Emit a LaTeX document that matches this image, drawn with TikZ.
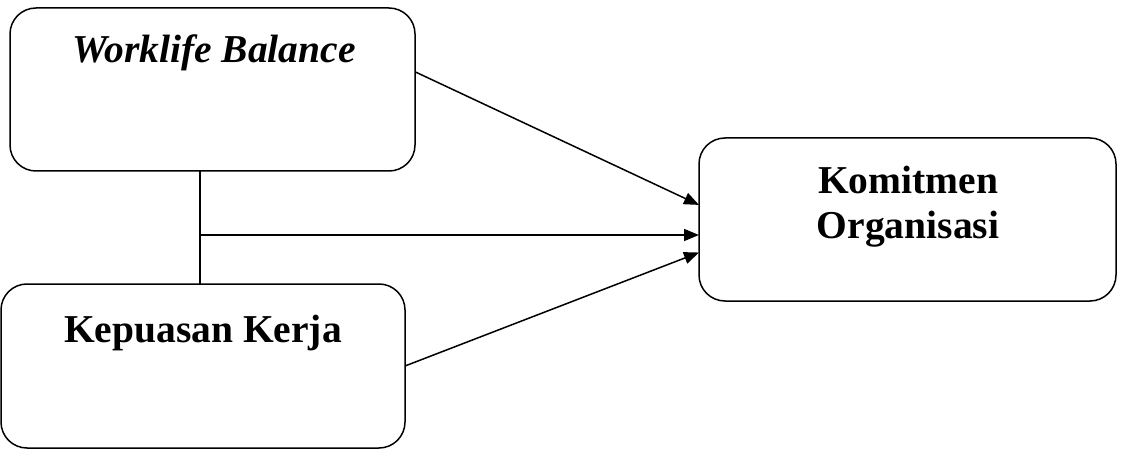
\documentclass[tikz,border=0pt]{standalone}
\usepackage{fontspec}
\setmainfont{Liberation Serif}
\usetikzlibrary{arrows.meta}
\begin{document}
\begin{tikzpicture}[x=1pt,y=-1pt,
  box/.style={draw, line width=1.5pt, rounded corners=26pt, inner sep=0pt, outer sep=0pt, anchor=north west},
  lbl/.style={font=\fontsize{39.5}{45}\selectfont\bfseries, inner sep=0pt, anchor=base, align=center},
  arr/.style={line width=1.5pt, -{Triangle[length=15pt,width=12pt]}},
  ln/.style={line width=1.5pt}]
\useasboundingbox (0,0) rectangle (1122,476);
\node[box, minimum width=405pt, minimum height=163pt] (wb) at (10,8) {};
\node[box, minimum width=404pt, minimum height=164pt] (kk) at (1,284) {};
\node[box, minimum width=417pt, minimum height=163pt] (ko) at (699,138) {};
\node[lbl, font=\fontsize{39.5}{45}\selectfont\bfseries\itshape] (wbt) at (214,63) {Worklife Balance};
\node[lbl] (kkt) at (203,342) {Kepuasan Kerja};
\node[lbl] (kot) at (908,238) {Komitmen\\Organisasi};
\coordinate (j) at (200,235);
\draw[ln] (j |- wb.south) -- (j |- kk.north);
\draw[arr] (j) -- (j -| ko.west);
\draw[arr] (wb.5.5) -- (ko.176.6);
\draw[arr] (kk.east) -- (ko.189.1);
\end{tikzpicture}
\end{document}
